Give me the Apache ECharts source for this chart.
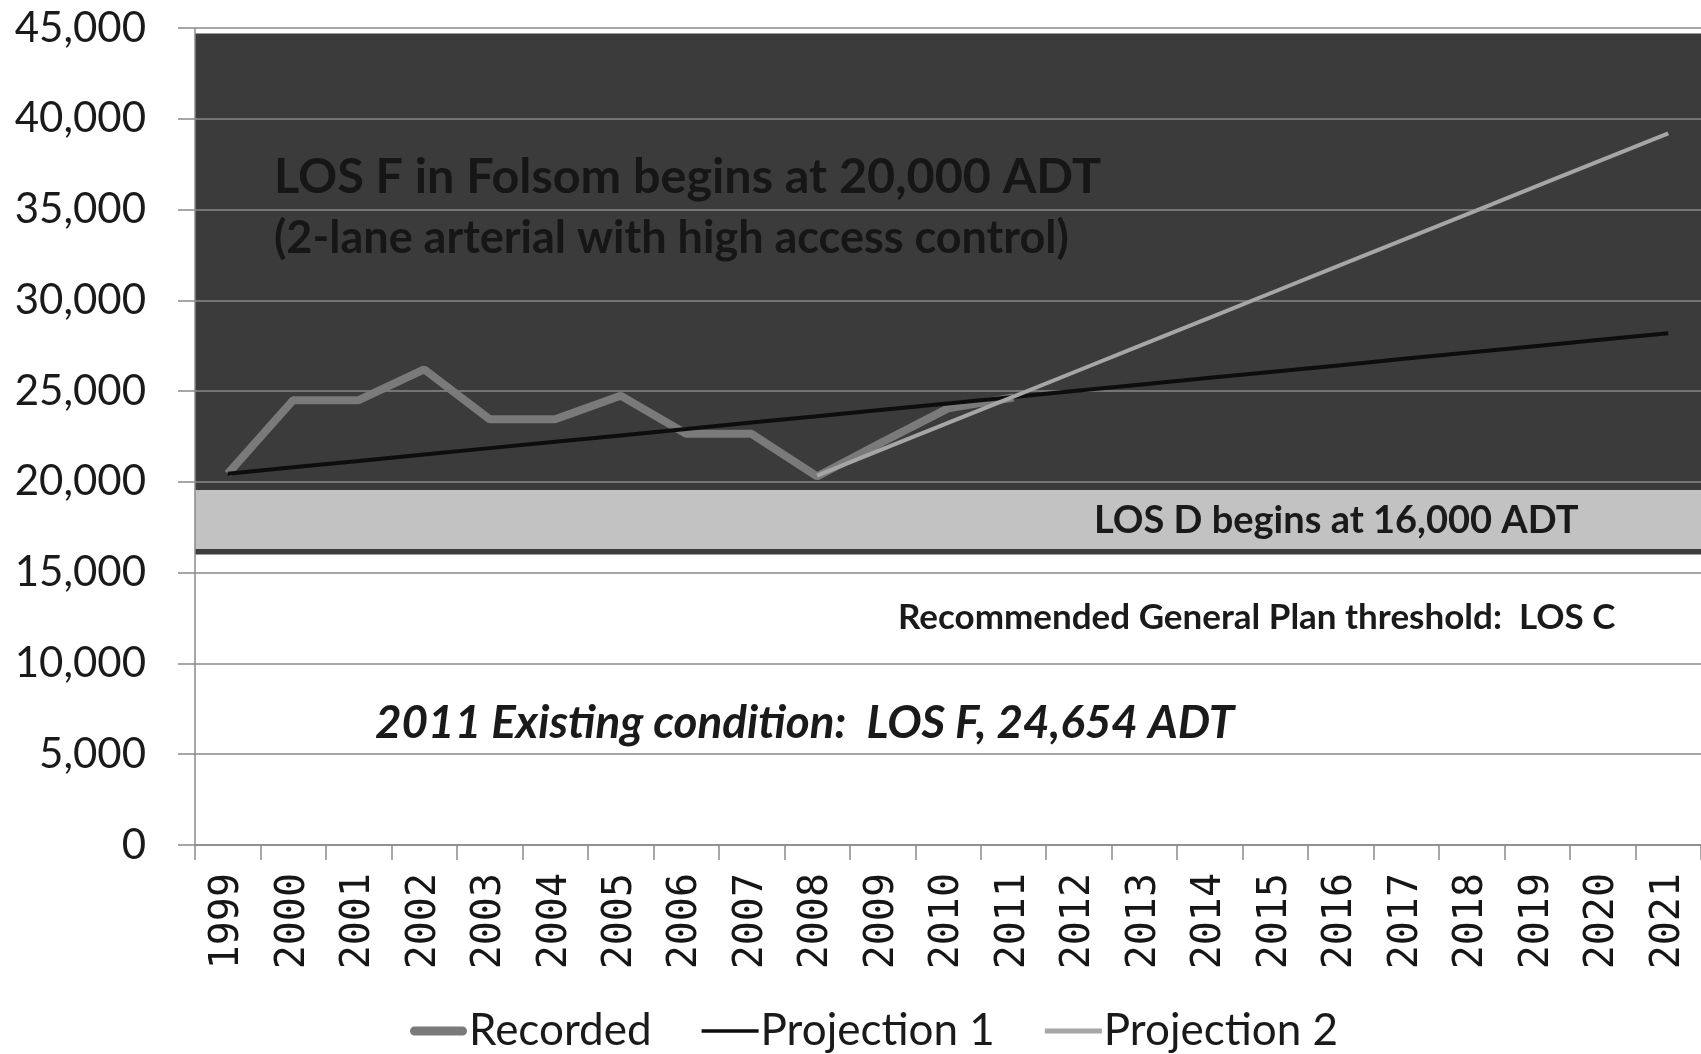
<!DOCTYPE html>
<html>
<head>
<meta charset="utf-8">
<script src="https://cdn.jsdelivr.net/npm/echarts@6/dist/echarts.min.js"></script>
<style>
  html, body { margin: 0; padding: 0; background: #fff; }
  #chart { width: 1701px; height: 1054px; }
</style>
</head>
<body>
<div id="chart"></div>
<script>
// years on the x axis
var years = ['1999', '2000', '2001', '2002', '2003', '2004', '2005', '2006', '2007', '2008', '2009',
  '2010', '2011', '2012', '2013', '2014', '2015', '2016', '2017', '2018', '2019', '2020', '2021'];

// ADT counts
var recorded = [20450, 24500, 24500, 26200, 23450, 23450, 24750, 22650, 22650, 20300, 22200,
  24050, 24650, null, null, null, null, null, null, null, null, null, null];
var projection1 = [20450, 20800, 21150, 21510, 21860, 22210, 22560, 22910, 23270, 23620, 23970,
  24320, 24670, 25030, 25380, 25730, 26080, 26430, 26790, 27140, 27490, 27840, 28190];
var projection2 = [null, null, null, null, null, null, null, null, null, 20350, 21800,
  23250, 24700, 26150, 27600, 29050, 30500, 31950, 33400, 34850, 36300, 37750, 39200];

// LOS bands (ADT)
var losFBand = [16000, 44700];
var losDBand = [16300, 19550];

var chart = echarts.init(document.getElementById('chart'));

var font = 'Lato, "Open Sans", sans-serif';

var option = {
  animation: false,
  backgroundColor: '#fff',
  grid: { left: 195, right: 0, top: 28, bottom: 209 },
  legend: {
    left: 405,
    top: 1004,
    itemWidth: 57,
    itemHeight: 9,
    itemGap: 50,
    textStyle: { fontFamily: font, fontSize: 44, color: '#1a1a1a', padding: [0, 0, 0, -3] },
    data: [
      { name: 'Recorded', icon: 'path://M4,0h49a4,4 0 0 1 0,9h-49a4,4 0 0 1 0,-9z' },
      { name: 'Projection 1', icon: 'path://M0,0h57v3.5h-57z' },
      { name: 'Projection 2', icon: 'path://M0,0h57v5h-57z' }
    ]
  },
  xAxis: {
    type: 'category',
    data: years,
    boundaryGap: true,
    z: 3,
    axisLine: { lineStyle: { color: '#8a8a8a', width: 1.5 } },
    axisTick: { show: true, length: 15, lineStyle: { color: '#8a8a8a', width: 1.5 } },
    axisLabel: {
      rotate: 90,
      interval: 0,
      margin: 28,
      fontFamily: '"DejaVu Sans Mono", monospace',
      fontSize: 40,
      color: '#161616'
    }
  },
  yAxis: {
    type: 'value',
    min: 0,
    max: 45000,
    interval: 5000,
    z: 3,
    axisLine: { show: true, lineStyle: { color: '#8a8a8a', width: 1.5 } },
    axisTick: { show: true, length: 17, lineStyle: { color: '#8a8a8a', width: 1.5 } },
    axisLabel: {
      margin: 49,
      fontFamily: font,
      fontSize: 42,
      color: '#1a1a1a',
      formatter: function (v) { return v.toLocaleString('en-US'); }
    },
    splitLine: { show: true, lineStyle: { color: '#8a8a8a', width: 1.5 } }
  },
  series: [
    {
      name: 'zones',
      type: 'line',
      data: [],
      z: 1,
      silent: true,
      markArea: {
        silent: true,
        data: [
          [{ yAxis: losFBand[0], itemStyle: { color: '#3b3b3b' } }, { yAxis: losFBand[1] }],
          [{ yAxis: losDBand[0], itemStyle: { color: '#c2c2c2' } }, { yAxis: losDBand[1] }]
        ]
      }
    },
    {
      name: 'Recorded',
      type: 'line',
      data: recorded,
      z: 5,
      symbol: 'none',
      color: '#7a7a7a',
      lineStyle: { color: '#7a7a7a', width: 8 }
    },
    {
      name: 'Projection 1',
      type: 'line',
      data: projection1,
      z: 6,
      symbol: 'none',
      color: '#0d0d0d',
      lineStyle: { color: '#0d0d0d', width: 4 }
    },
    {
      name: 'Projection 2',
      type: 'line',
      data: projection2,
      z: 7,
      symbol: 'none',
      color: '#a6a6a6',
      lineStyle: { color: '#a6a6a6', width: 4 }
    }
  ],
  graphic: [
    {
      type: 'text', x: 274, y: 177, z: 10,
      style: { text: 'LOS F in Folsom begins at 20,000 ADT', font: 'bold 48.5px ' + font, fill: '#161616', verticalAlign: 'middle' }
    },
    {
      type: 'text', x: 274, y: 238, z: 10,
      style: { text: '(2-lane arterial with high access control)', font: 'bold 45px ' + font, fill: '#161616', verticalAlign: 'middle' }
    },
    {
      type: 'text', x: 1094, y: 521, z: 10,
      style: { text: 'LOS D begins at 16,000 ADT', font: 'bold 38px ' + font, fill: '#1a1a1a', verticalAlign: 'middle' }
    },
    {
      type: 'text', x: 898, y: 618, z: 10,
      style: { text: 'Recommended General Plan threshold:  LOS C', font: 'bold 35px ' + font, fill: '#1a1a1a', verticalAlign: 'middle' }
    },
    {
      type: 'text', x: 375, y: 723, z: 10,
      style: { text: '2011 Existing condition:  LOS F, 24,654 ADT', font: 'italic bold 45.8px ' + font, fill: '#1a1a1a', verticalAlign: 'middle' }
    }
  ]
};

chart.setOption(option);
</script>
</body>
</html>
